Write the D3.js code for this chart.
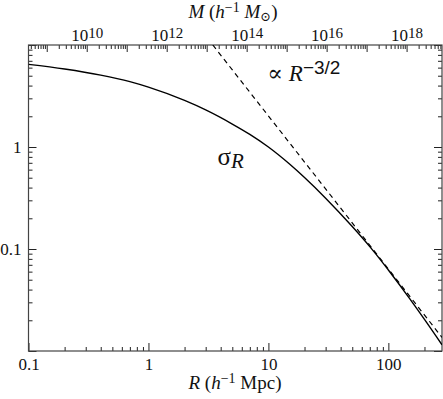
<!DOCTYPE html>
<html>
<head>
<meta charset="utf-8">
<script src="https://cdn.jsdelivr.net/npm/d3@7"></script>
<style>
  body { margin: 0; background: #fff; }
  text { font-family: "Liberation Serif", "DejaVu Serif", serif; fill: #111; }
</style>
</head>
<body>
<div id="chart"></div>
<script>
// sigma_R (R in h^-1 Mpc)
const radius = [0.1, 0.2, 0.4, 0.7, 1, 2, 3, 5, 7, 10, 15, 20, 30, 50, 70, 86, 100, 150, 200, 280];
const sigma  = [6.46, 5.82, 5.07, 4.37, 3.86, 2.86, 2.31, 1.68, 1.33, 1.0, 0.681, 0.502, 0.315, 0.166, 0.1055, 0.0783, 0.0622, 0.0328, 0.0204, 0.0115];

// the R^-3/2 guide line, its two ends
const guideR     = [3.44, 280];
const guideSigma = [10, 0.0136];

const xMajor = [0.1, 1, 10, 100];
const xMinor = [0.2, 0.3, 0.4, 0.5, 0.6, 0.7, 0.8, 0.9, 2, 3, 4, 5, 6, 7, 8, 9,
                20, 30, 40, 50, 60, 70, 80, 90, 200];
const yLabels = [0.1, 1];
const yMajor = [0.01, 0.1, 1, 10];
const yMinor = [0.02, 0.03, 0.04, 0.05, 0.06, 0.07, 0.08, 0.09,
                0.2, 0.3, 0.4, 0.5, 0.6, 0.7, 0.8, 0.9,
                2, 3, 4, 5, 6, 7, 8, 9];
const massExponents = [9, 10, 11, 12, 13, 14, 15, 16, 17, 18];
const massLabelExponents = [10, 12, 14, 16, 18];
const massPerR3 = 3.5e11; // M = massPerR3 * R^3

const width = 443, height = 399;
const margin = {top: 45, right: 1, bottom: 48, left: 28.5};
const innerWidth = width - margin.left - margin.right;
const innerHeight = height - margin.top - margin.bottom;

const svg = d3.select("#chart")
    .append("svg")
    .attr("width", width)
    .attr("height", height);

const g = svg.append("g")
    .attr("transform", `translate(${margin.left},${margin.top})`);

const x = d3.scaleLog().domain([0.1, 280]).range([0, innerWidth]);
const y = d3.scaleLog().domain([0.01, 10]).range([innerHeight, 0]);
const xMass = d3.scaleLog()
    .domain([massPerR3 * Math.pow(0.1, 3), massPerR3 * Math.pow(280, 3)])
    .range([0, innerWidth]);

function styleAxis(sel) {
    sel.select(".domain").remove();
    sel.selectAll("line").attr("stroke", "#222").attr("stroke-width", 1);
    sel.selectAll("text").filter(function() { return this.textContent === ""; }).remove();
    sel.selectAll("text").style("font-size", "17px").attr("fill", "#111");
}

// bottom axis
g.append("g").attr("transform", `translate(0,${innerHeight})`)
    .call(d3.axisBottom(x).tickValues(xMajor).tickSize(-8).tickPadding(7)
        .tickFormat(d => d3.format("~g")(d)))
    .call(styleAxis);
g.append("g").attr("transform", `translate(0,${innerHeight})`)
    .call(d3.axisBottom(x).tickValues(xMinor).tickSize(-4).tickFormat(""))
    .call(styleAxis);

// left axis
g.append("g")
    .call(d3.axisLeft(y).tickValues(yMajor).tickSize(-8).tickPadding(7)
        .tickFormat(d => yLabels.includes(d) ? d3.format("~g")(d) : ""))
    .call(styleAxis);
g.append("g")
    .call(d3.axisLeft(y).tickValues(yMinor).tickSize(-4).tickFormat(""))
    .call(styleAxis);

// right axis
g.append("g").attr("transform", `translate(${innerWidth},0)`)
    .call(d3.axisRight(y).tickValues(yMajor).tickSize(-8).tickFormat(""))
    .call(styleAxis);
g.append("g").attr("transform", `translate(${innerWidth},0)`)
    .call(d3.axisRight(y).tickValues(yMinor).tickSize(-4).tickFormat(""))
    .call(styleAxis);

// top axis in mass
const massMajor = massExponents.map(e => Math.pow(10, e));
const massMinor = [];
massExponents.concat([8]).forEach(e => {
    for (let k = 2; k <= 9; k++) {
        const v = k * Math.pow(10, e);
        if (v >= xMass.domain()[0] && v <= xMass.domain()[1]) massMinor.push(v);
    }
});

const topAxis = g.append("g")
    .call(d3.axisTop(xMass).tickValues(massMajor).tickSize(-7).tickFormat(""))
    .call(styleAxis);
g.append("g")
    .call(d3.axisTop(xMass).tickValues(massMinor).tickSize(-4).tickFormat(""))
    .call(styleAxis);

topAxis.selectAll(".tick")
    .filter(d => massLabelExponents.includes(Math.round(Math.log10(d))))
    .append("text")
    .attr("y", -4)
    .attr("text-anchor", "middle")
    .style("font-size", "17px")
    .each(function(d) {
        const t = d3.select(this);
        t.append("tspan").text("10");
        t.append("tspan").attr("dy", -3).style("font-size", "15px")
            .text(Math.round(Math.log10(d)));
    });

// frame
g.append("rect")
    .attr("width", innerWidth)
    .attr("height", innerHeight)
    .attr("fill", "none")
    .attr("stroke", "#444")
    .attr("stroke-width", 1.2);

svg.append("clipPath").attr("id", "plotclip")
    .append("rect").attr("width", innerWidth).attr("height", innerHeight);

const plot = g.append("g").attr("clip-path", "url(#plotclip)");

const line = d3.line()
    .x(d => x(d[0]))
    .y(d => y(d[1]))
    .curve(d3.curveMonotoneX);

plot.append("path")
    .datum(radius.map((r, i) => [r, sigma[i]]))
    .attr("d", line)
    .attr("fill", "none")
    .attr("stroke", "#000")
    .attr("stroke-width", 1.4);

plot.append("path")
    .datum(guideR.map((r, i) => [r, guideSigma[i]]))
    .attr("d", d3.line().x(d => x(d[0])).y(d => y(d[1])))
    .attr("fill", "none")
    .attr("stroke", "#000")
    .attr("stroke-width", 1.2)
    .attr("stroke-dasharray", "5,4");

// in-plot labels
const propLabel = g.append("text")
    .attr("x", 239)
    .attr("y", 36)
    .style("font-size", "23px");
propLabel.append("tspan").text("\u221D ");
propLabel.append("tspan").style("font-style", "italic").text("R");
propLabel.append("tspan").attr("dy", -7)
    .style("font-family", "'Liberation Sans', sans-serif")
    .style("font-size", "19px").text("\u22123/2");

const sigmaLabel = g.append("text")
    .attr("x", 189)
    .attr("y", 120)
    .style("font-size", "25px");
sigmaLabel.append("tspan").text("\u03C3");
sigmaLabel.append("tspan").attr("dy", 3).style("font-style", "italic")
    .style("font-size", "21px").text("R");

// axis titles
const xTitle = svg.append("text")
    .attr("x", 235)
    .attr("y", 389)
    .attr("text-anchor", "middle")
    .style("font-size", "19px");
xTitle.append("tspan").style("font-style", "italic").text("R");
xTitle.append("tspan").text(" (");
xTitle.append("tspan").style("font-style", "italic").text("h");
xTitle.append("tspan").attr("dy", -6).style("font-size", "14px").text("\u22121");
xTitle.append("tspan").attr("dy", 6).text(" Mpc)");

const mTitle = svg.append("text")
    .attr("x", 233)
    .attr("y", 18)
    .attr("text-anchor", "middle")
    .style("font-size", "19px");
mTitle.append("tspan").style("font-style", "italic").text("M");
mTitle.append("tspan").text(" (");
mTitle.append("tspan").style("font-style", "italic").text("h");
mTitle.append("tspan").attr("dy", -6).style("font-size", "14px").text("\u22121");
mTitle.append("tspan").attr("dy", 6).text(" ");
mTitle.append("tspan").style("font-style", "italic").text("M");
mTitle.append("tspan").attr("dy", 3).style("font-size", "13px").text("\u2299");
mTitle.append("tspan").attr("dy", -3).text(")");
</script>
</body>
</html>
